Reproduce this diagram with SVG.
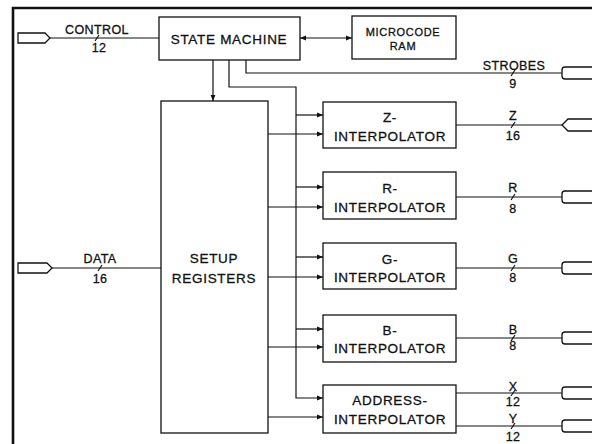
<svg xmlns="http://www.w3.org/2000/svg" width="592" height="444" viewBox="0 0 592 444">
<defs>
<marker id="ah" viewBox="0 0 10 10" refX="10" refY="5" markerWidth="8" markerHeight="6" markerUnits="userSpaceOnUse" orient="auto-start-reverse">
<path d="M0,1 L10,5 L0,9 z" fill="#111"/>
</marker>
<style>
.box{fill:#fff;stroke:#111;stroke-width:1.3}
.ln{fill:none;stroke:#111;stroke-width:1.2}
.t{font-family:"Liberation Sans",Arial,sans-serif;font-size:13.5px;letter-spacing:0.7px;fill:#111;stroke:#111;stroke-width:0.3;text-anchor:middle}
.s{font-family:"Liberation Sans",Arial,sans-serif;font-size:12.5px;letter-spacing:0.4px;fill:#111;stroke:#111;stroke-width:0.3;text-anchor:middle}
.m{font-family:"Liberation Sans",Arial,sans-serif;font-size:11px;letter-spacing:0.7px;fill:#111;stroke:#111;stroke-width:0.3;text-anchor:middle}
.con{fill:#fff;stroke:#111;stroke-width:1.3}
.bd{fill:none;stroke:#111;stroke-width:2.6}
</style>
</defs>
<rect width="592" height="444" fill="#fff"/>
<path class="bd" d="M13,444 V8 H592"/>

<g id="connectors">
<path class="ln" d="M50,38 H159"/>
<path class="ln" d="M95,41 L99,35"/>
<path class="ln" d="M52,268 H161"/>
<path class="ln" d="M98,271 L102,265"/>
<path class="ln" d="M300,38 H352" marker-start="url(#ah)" marker-end="url(#ah)"/>
<path class="ln" d="M213,60 V101" marker-end="url(#ah)"/>
<path class="ln" d="M246,60 V73 H562"/>
<path class="ln" d="M511,76 L515,70"/>
<path class="ln" d="M229,60 V87 H296 V398 H323" marker-end="url(#ah)"/>
<path class="ln" d="M296,115 H323" marker-end="url(#ah)"/>
<path class="ln" d="M296,187 H323" marker-end="url(#ah)"/>
<path class="ln" d="M296,257 H323" marker-end="url(#ah)"/>
<path class="ln" d="M296,329 H323" marker-end="url(#ah)"/>
<path class="ln" d="M268,134 H323" marker-end="url(#ah)"/>
<path class="ln" d="M268,207 H323" marker-end="url(#ah)"/>
<path class="ln" d="M268,277 H323" marker-end="url(#ah)"/>
<path class="ln" d="M268,347 H323" marker-end="url(#ah)"/>
<path class="ln" d="M268,417 H323" marker-end="url(#ah)"/>
<path class="ln" d="M456,125 H562"/>
<path class="ln" d="M511,128 L515,122"/>
<path class="ln" d="M456,197 H562"/>
<path class="ln" d="M511,200 L515,194"/>
<path class="ln" d="M456,268 H562"/>
<path class="ln" d="M511,271 L515,265"/>
<path class="ln" d="M456,338 H562"/>
<path class="ln" d="M511,341 L515,335"/>
<path class="ln" d="M456,393 H562"/>
<path class="ln" d="M511,396 L515,390"/>
<path class="ln" d="M456,426 H562"/>
<path class="ln" d="M511,429 L515,423"/>
</g>

<g id="control-port">
<path class="con" d="M18,33 H45 L50,38 L45,43 H18 Z"/>
<text class="s" x="97" y="34">CONTROL</text>
<text class="s" x="99" y="52">12</text>
</g>
<g id="data-port">
<path class="con" d="M18,263 H47 L52,268 L47,273 H18 Z"/>
<text class="s" x="100" y="263">DATA</text>
<text class="s" x="100" y="283">16</text>
</g>

<g id="state-machine">
<rect class="box" x="159" y="17" width="141" height="43"/>
<text class="t" x="229" y="44">STATE MACHINE</text>
</g>
<g id="microcode-ram">
<rect class="box" x="352" y="16" width="104" height="43"/>
<text class="m" x="403" y="35.5">MICROCODE</text>
<text class="m" x="403" y="49.5">RAM</text>
</g>
<g id="strobes-port">
<rect class="con" x="562" y="67" width="36" height="12" rx="3"/>
<text class="s" x="514" y="70">STROBES</text>
<text class="s" x="513" y="88">9</text>
</g>

<g id="setup-registers">
<rect class="box" x="161" y="101" width="107" height="332"/>
<text class="t" x="214" y="263">SETUP</text>
<text class="t" x="214" y="283">REGISTERS</text>
</g>

<g id="z-interpolator">
<rect class="box" x="323" y="102" width="133" height="46"/>
<text class="t" x="390" y="122">Z-</text>
<text class="t" x="390" y="141">INTERPOLATOR</text>
</g>
<g id="r-interpolator">
<rect class="box" x="323" y="172" width="133" height="47"/>
<text class="t" x="390" y="193">R-</text>
<text class="t" x="390" y="212">INTERPOLATOR</text>
</g>
<g id="g-interpolator">
<rect class="box" x="323" y="243" width="133" height="46"/>
<text class="t" x="390" y="264">G-</text>
<text class="t" x="390" y="282">INTERPOLATOR</text>
</g>
<g id="b-interpolator">
<rect class="box" x="323" y="315" width="133" height="47"/>
<text class="t" x="390" y="335">B-</text>
<text class="t" x="390" y="353">INTERPOLATOR</text>
</g>
<g id="address-interpolator">
<rect class="box" x="323" y="385" width="133" height="48"/>
<text class="t" x="390" y="405">ADDRESS-</text>
<text class="t" x="390" y="424">INTERPOLATOR</text>
</g>

<g id="z-port">
<path class="con" d="M562,125 L568,119 H598 V131 H568 Z"/>
<text class="s" x="513" y="120">Z</text>
<text class="s" x="513" y="140">16</text>
</g>
<g id="r-port">
<rect class="con" x="562" y="191" width="36" height="12" rx="3"/>
<text class="s" x="513" y="192">R</text>
<text class="s" x="513" y="213">8</text>
</g>
<g id="g-port">
<rect class="con" x="562" y="262" width="36" height="12" rx="3"/>
<text class="s" x="513" y="263">G</text>
<text class="s" x="513" y="282">8</text>
</g>
<g id="b-port">
<rect class="con" x="562" y="332" width="36" height="12" rx="3"/>
<text class="s" x="513" y="334">B</text>
<text class="s" x="513" y="350">8</text>
</g>
<g id="x-port">
<rect class="con" x="562" y="387" width="36" height="12" rx="3"/>
<text class="s" x="513" y="391">X</text>
<text class="s" x="513" y="406">12</text>
</g>
<g id="y-port">
<rect class="con" x="562" y="420" width="36" height="12" rx="3"/>
<text class="s" x="513" y="423">Y</text>
<text class="s" x="513" y="441">12</text>
</g>
</svg>
